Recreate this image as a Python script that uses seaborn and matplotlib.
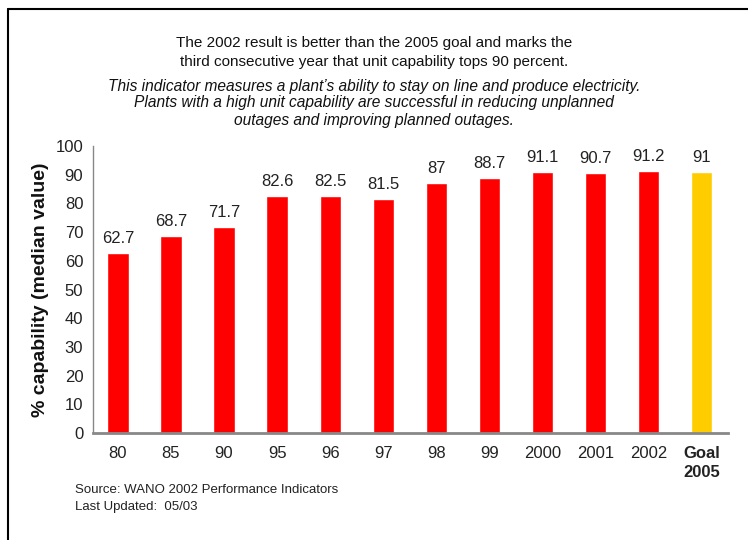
import matplotlib
matplotlib.use('Agg')
import matplotlib.pyplot as plt
import seaborn as sns
import pandas as pd
from matplotlib.lines import Line2D

# chart data
years = ['80', '85', '90', '95', '96', '97', '98', '99', '2000', '2001', '2002', 'Goal\n2005']
capability = [62.7, 68.7, 71.7, 82.6, 82.5, 81.5, 87, 88.7, 91.1, 90.7, 91.2, 91]
bar_colors = ['#ff0000'] * 11 + ['#ffcc00']
y_ticks = [0, 10, 20, 30, 40, 50, 60, 70, 80, 90, 100]

W, H = 748, 540


def main():
    sns.set_style('white')
    plt.rcParams['font.family'] = ['Liberation Sans', 'DejaVu Sans']

    df = pd.DataFrame({'year': years, 'cap': capability})

    fig = plt.figure(figsize=(W / 100, H / 100), dpi=100)
    fig.patch.set_facecolor('white')
    ax = fig.add_axes([93 / W, 107 / H, (728 - 93) / W, (394 - 107) / H])

    sns.barplot(data=df, x='year', y='cap', hue='year', palette=bar_colors,
                legend=False, width=0.4, saturation=1, ax=ax)

    # value labels on top of the bars
    for cont in ax.containers:
        ax.bar_label(cont, fmt='{:g}', padding=5, fontsize=12, color='#222222')

    ax.set_xlim(-0.47, 11.5)
    ax.set_ylim(0, 100)
    ax.set_yticks(y_ticks)
    ax.set_xlabel('')
    ax.set_ylabel('% capability (median value)', fontsize=14, fontweight='bold',
                  labelpad=5, color='#111111')
    ax.tick_params(axis='y', direction='in', length=4, width=1, color='#888888',
                   labelsize=12, pad=7, labelcolor='#222222')
    ax.tick_params(axis='x', length=0, labelsize=12, pad=9, labelcolor='#222222')
    for lab in ax.get_xticklabels():
        if lab.get_text().startswith('Goal'):
            lab.set_fontweight('bold')
            lab.set_linespacing(1.4)

    sns.despine(ax=ax, top=True, right=True)
    ax.spines['left'].set_color('#888888')
    ax.spines['left'].set_linewidth(1)
    ax.spines['bottom'].set_color('#888888')
    ax.spines['bottom'].set_linewidth(2)

    # heading text
    fig.text(374 / W, 1 - 43 / H, 'The 2002 result is better than the 2005 goal and marks the',
             ha='center', va='center', fontsize=11, color='#111111')
    fig.text(374 / W, 1 - 62 / H, 'third consecutive year that unit capability tops 90 percent.',
             ha='center', va='center', fontsize=11, color='#111111')
    fig.text(374 / W, 1 - 86 / H,
             'This indicator measures a plant\u2019s ability to stay on line and produce electricity.',
             ha='center', va='center', fontsize=11.2, style='italic', color='#111111')
    fig.text(374 / W, 1 - 103 / H,
             'Plants with a high unit capability are successful in reducing unplanned',
             ha='center', va='center', fontsize=11.2, style='italic', color='#111111')
    fig.text(374 / W, 1 - 120 / H, 'outages and improving planned outages.',
             ha='center', va='center', fontsize=11.2, style='italic', color='#111111')

    # source note
    fig.text(75 / W, 1 - 490 / H, 'Source: WANO 2002 Performance Indicators',
             ha='left', va='center', fontsize=9.5, color='#222222')
    fig.text(75 / W, 1 - 507 / H, 'Last Updated:  05/03',
             ha='left', va='center', fontsize=9.5, color='#222222')

    # frame lines at the top and left
    fig.add_artist(Line2D([8 / W, 8 / W], [1 - 9 / H, 0], transform=fig.transFigure,
                          color='black', linewidth=1.5))
    fig.add_artist(Line2D([8 / W, 1], [1 - 9 / H, 1 - 9 / H], transform=fig.transFigure,
                          color='black', linewidth=1.5))

    fig.savefig('out.png', dpi=100)


if __name__ == "__main__":
    main()
